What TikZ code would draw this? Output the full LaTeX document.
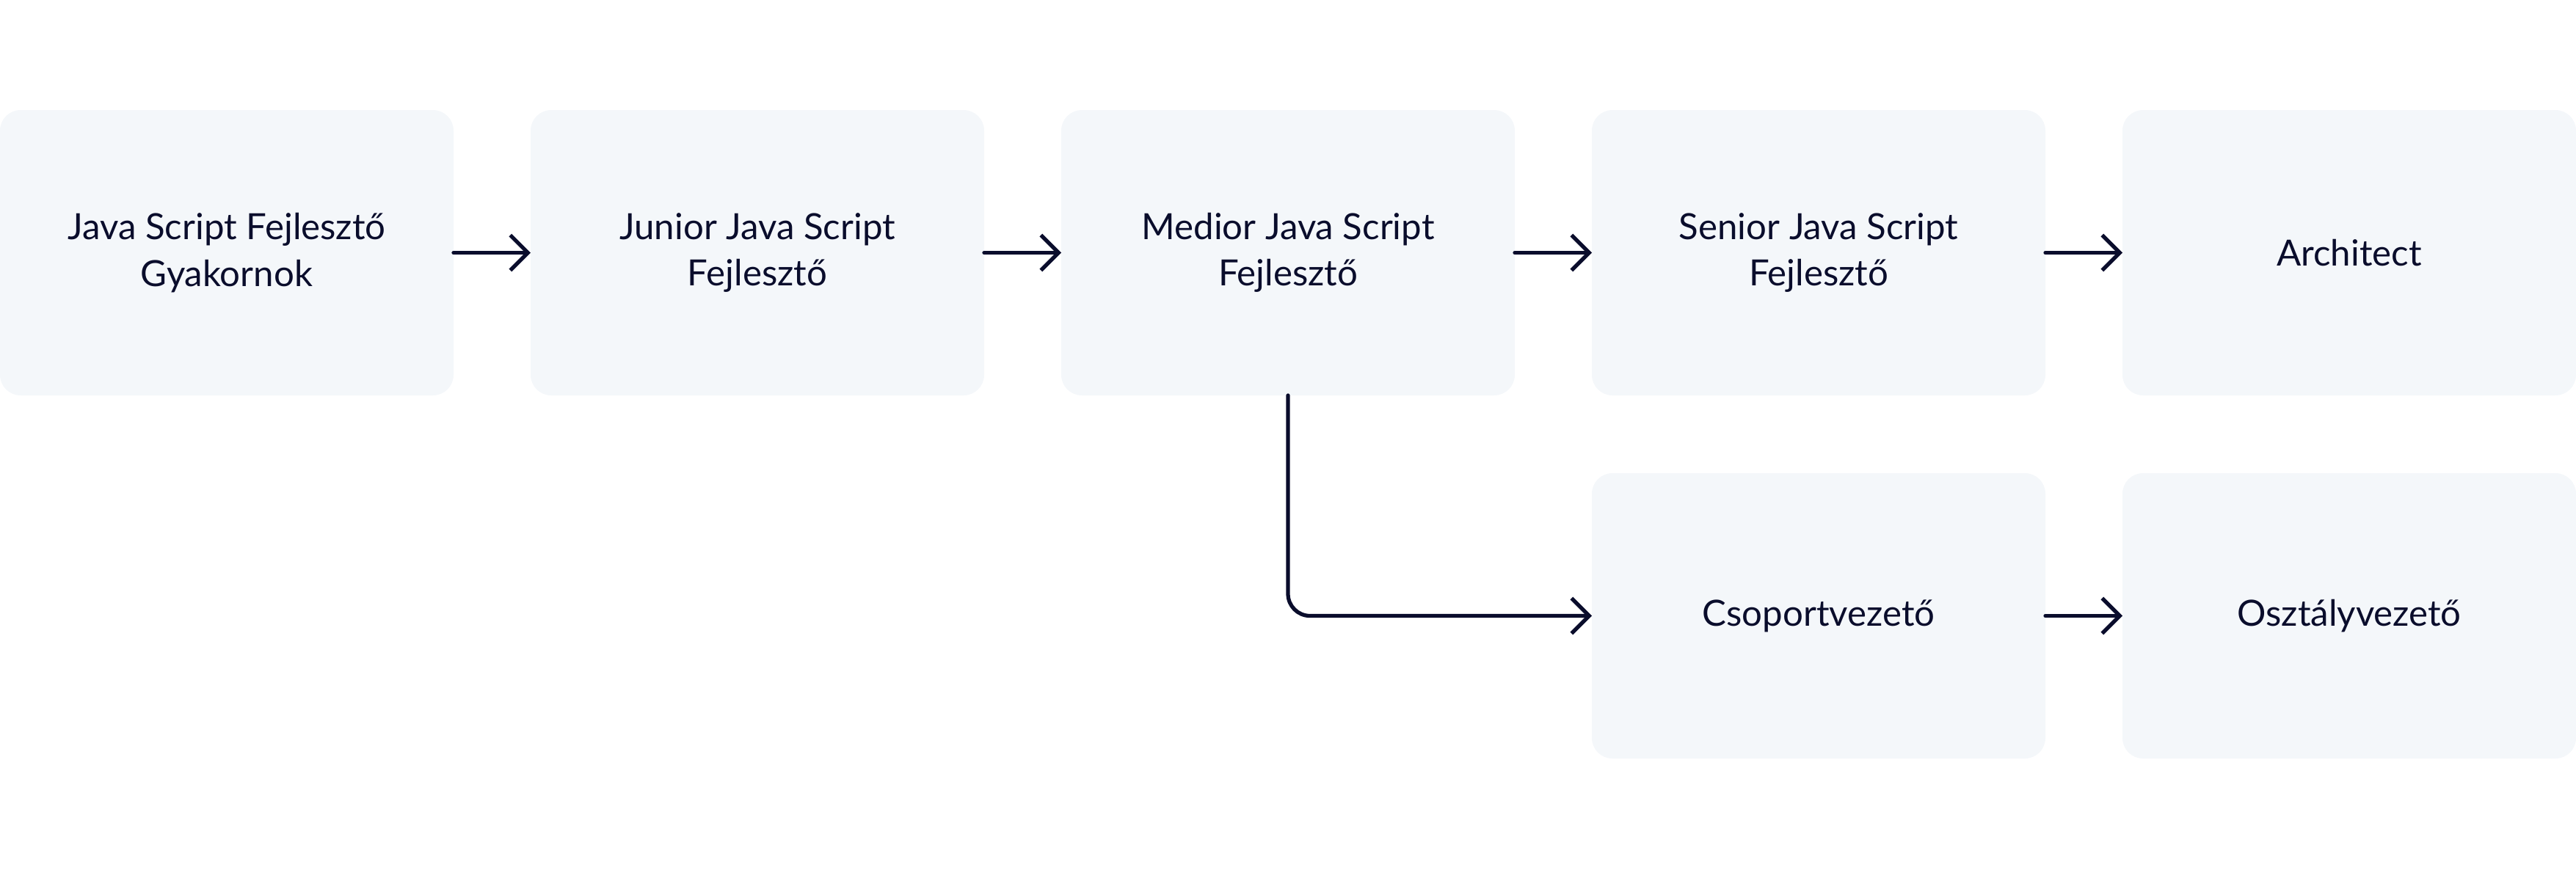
\documentclass[tikz,border=0pt]{standalone}
\usepackage{fontspec}
\setmainfont{Lato}
\usepackage{tikz}
\usetikzlibrary{arrows.meta,positioning}
\definecolor{boxfill}{HTML}{F4F7FA}
\definecolor{inkblue}{HTML}{0A0D2C}

\begin{document}
\begin{tikzpicture}[
    node distance=10.6mm and 10.5mm,
    stage/.style={fill=boxfill, rounded corners=2.8mm, minimum width=61.8mm, minimum height=38.9mm, inner sep=0pt, outer sep=0pt, align=center, text=inkblue, font=\fontsize{14}{18}\selectfont},
    edge/.style={-{Straight Barb[length=2.4mm,width=4.8mm]}, line width=1.5pt, draw=inkblue, line cap=round, line join=round}
]
\useasboundingbox (0,0) rectangle (35.1,-11.85);

\node[stage, anchor=north west] (intern) at (0,-1.5) {Java Script Fejlesztő\\Gyakornok};
\node[stage, right=of intern] (junior) {Junior Java Script\\Fejlesztő};
\node[stage, right=of junior] (medior) {Medior Java Script\\Fejlesztő};
\node[stage, right=of medior] (senior) {Senior Java Script\\Fejlesztő};
\node[stage, right=of senior] (architect) {Architect};

\node[stage, below=of senior] (lead) {Csoportvezető};
\node[stage, right=of lead] (head) {Osztályvezető};

\draw[edge] (intern) -- (junior);
\draw[edge] (junior) -- (medior);
\draw[edge] (medior) -- (senior);
\draw[edge] (senior) -- (architect);
\draw[edge, rounded corners=3mm] (medior.south) |- (lead.west);
\draw[edge] (lead) -- (head);
\end{tikzpicture}
\end{document}
